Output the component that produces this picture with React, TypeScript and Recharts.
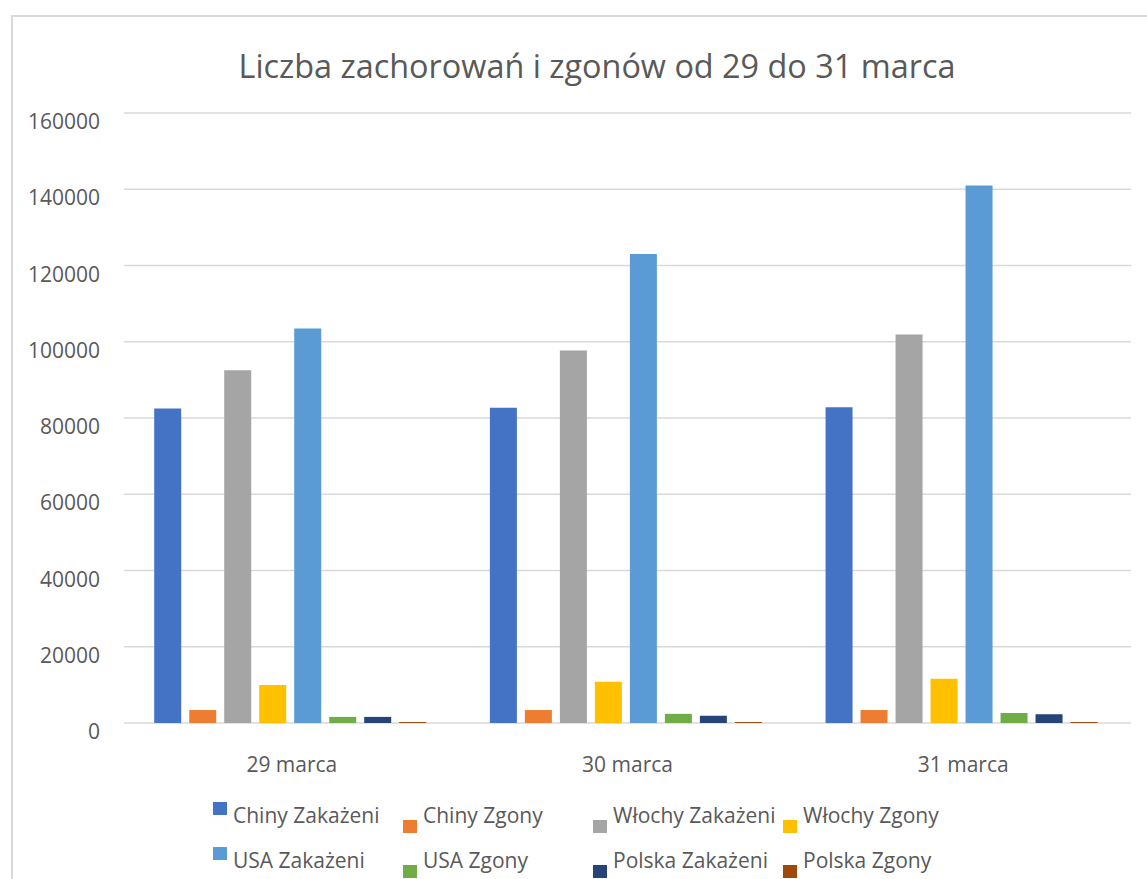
import { Bar, BarChart, CartesianGrid, Legend, XAxis, YAxis } from 'recharts'

const categories = ['29 marca', '30 marca', '31 marca']
const chinyZakazeni = [82500, 82700, 82800]
const chinyZgony = [3400, 3400, 3400]
const wlochyZakazeni = [92500, 97700, 101900]
const wlochyZgony = [10000, 10800, 11600]
const usaZakazeni = [103500, 123000, 141000]
const usaZgony = [1600, 2400, 2600]
const polskaZakazeni = [1600, 1900, 2300]
const polskaZgony = [250, 250, 250]
const yTicks = [0, 20000, 40000, 60000, 80000, 100000, 120000, 140000, 160000]

const series = [
  { key: 'chinyZakazeni', name: 'Chiny Zakażeni', color: '#4472C4', values: chinyZakazeni },
  { key: 'chinyZgony', name: 'Chiny Zgony', color: '#ED7D31', values: chinyZgony },
  { key: 'wlochyZakazeni', name: 'Włochy Zakażeni', color: '#A5A5A5', values: wlochyZakazeni },
  { key: 'wlochyZgony', name: 'Włochy Zgony', color: '#FFC000', values: wlochyZgony },
  { key: 'usaZakazeni', name: 'USA Zakażeni', color: '#5B9BD5', values: usaZakazeni },
  { key: 'usaZgony', name: 'USA Zgony', color: '#70AD47', values: usaZgony },
  { key: 'polskaZakazeni', name: 'Polska Zakażeni', color: '#264478', values: polskaZakazeni },
  { key: 'polskaZgony', name: 'Polska Zgony', color: '#9E480E', values: polskaZgony }
]

const chartData = categories.map((name, i) => {
  const row: Record<string, string | number> = { name }
  series.forEach((s) => {
    row[s.key] = s.values[i]
  })
  return row
})

const FONT = '"Open Sans", sans-serif'
const TEXT = '#595959'

const YTick = ({ x, y, payload }: any) => (
  <text x={x} y={y + 16} textAnchor="end" fill={TEXT} fontSize={21} fontFamily={FONT}>
    {payload.value}
  </text>
)

const XTick = ({ x, y, payload }: any) => (
  <text x={x} y={y + 49} textAnchor="middle" fill={TEXT} fontSize={21} fontFamily={FONT}>
    {payload.value}
  </text>
)

// legend keeps the series order (recharts would sort it by name)
const renderLegend = () => (
  <svg width={1147} height={90} style={{ display: 'block' }}>
    {series.map((s, i) => {
      const col = i % 4
      const row = Math.floor(i / 4)
      const sx = 213 + col * 190
      const baseline = 33 + row * 45
      // Excel draws the first column's swatch higher than the others
      const sy = col === 0 ? baseline - 21 : baseline - 3
      return (
        <g key={s.key}>
          <rect x={sx} y={sy} width={14} height={13} fill={s.color} />
          <text x={sx + 20} y={baseline} fill={TEXT} fontSize={21} fontFamily={FONT}>
            {s.name}
          </text>
        </g>
      )
    })}
  </svg>
)

export default function App() {
  return (
    <div style={{ position: 'relative', width: 1147, height: 879, overflow: 'hidden', background: '#fff' }}>
      <style>{'body{margin:0}'}</style>
      <div
        style={{
          position: 'absolute',
          left: 11,
          top: 15,
          width: 1200,
          height: 900,
          border: '2px solid #d9d9d9',
          boxSizing: 'border-box'
        }}
      />
      <div
        style={{
          position: 'absolute',
          left: 0,
          top: 45,
          width: 1194,
          textAlign: 'center',
          fontFamily: FONT,
          fontSize: 32.4,
          color: TEXT,
          lineHeight: '40px'
        }}
      >
        Liczba zachorowań i zgonów od 29 do 31 marca
      </div>
      <div style={{ position: 'absolute', left: 0, top: 0 }}>
        <BarChart
          width={1147}
          height={879}
          data={chartData}
          margin={{ top: 113, right: 16, bottom: 116, left: 0 }}
          barCategoryGap="9%"
          barGap={8}
        >
          <CartesianGrid vertical={false} stroke="#d9d9d9" strokeWidth={1.5} />
          <XAxis
            dataKey="name"
            axisLine={false}
            tickLine={false}
            tickSize={0}
            tickMargin={0}
            height={40}
            tick={<XTick />}
            interval={0}
          />
          <YAxis
            domain={[0, 160000]}
            ticks={yTicks}
            axisLine={false}
            tickLine={false}
            tickSize={0}
            tickMargin={24}
            width={124}
            tick={<YTick />}
            interval={0}
          />
          <Legend
            verticalAlign="middle"
            align="center"
            layout="horizontal"
            content={renderLegend}
            wrapperStyle={{ left: 0, top: 790, width: 1147 }}
          />
          {series.map((s) => (
            <Bar key={s.key} dataKey={s.key} name={s.name} fill={s.color} isAnimationActive={false} />
          ))}
        </BarChart>
      </div>
    </div>
  )
}
